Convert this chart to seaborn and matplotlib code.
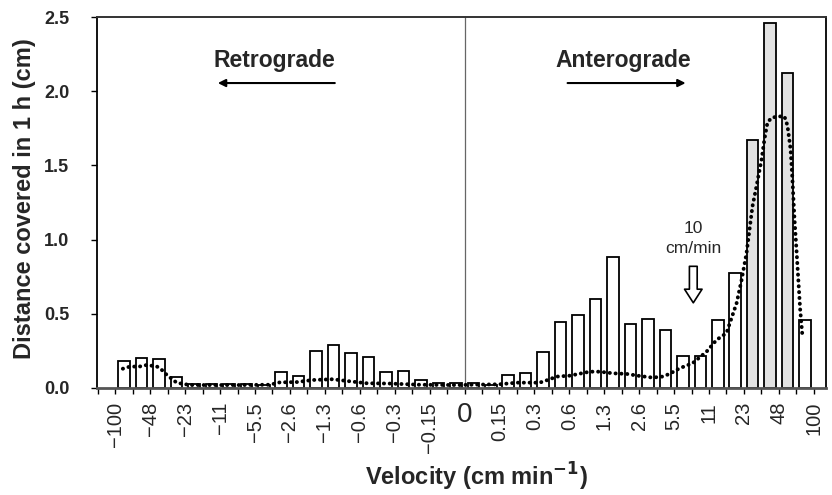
import numpy as np
import pandas as pd
import matplotlib
matplotlib.use("Agg")
import matplotlib.pyplot as plt
import seaborn as sns

# ---- data -------------------------------------------------------------
# velocity bin-edge labels (every other edge is labelled)
edge_labels = ["−100", "−48", "−23", "−11", "−5.5", "−2.6", "−1.3", "−0.6", "−0.3", "−0.15", "0",
               "0.15", "0.3", "0.6", "1.3", "2.6", "5.5", "11", "23", "48", "100"]

# distance covered in 1 h (cm) per velocity bin
retro_dist = [0.182, 0.205, 0.194, 0.076, 0.030, 0.025, 0.030, 0.028, 0.022, 0.106,
              0.078, 0.247, 0.292, 0.239, 0.209, 0.109, 0.115, 0.056, 0.036, 0.032]
antero_dist = [0.034, 0.022, 0.088, 0.100, 0.243, 0.446, 0.491, 0.599, 0.885, 0.432,
               0.468, 0.390, 0.218, 0.218, 0.455, 0.772, 1.67, 2.46, 2.12, 0.46]

# smoothed (dotted) curve, in bin-index units
curve_bin = [-0.07, 0.33, 0.9, 1.3, 1.88, 2.16, 2.45, 3.02, 3.77, 5.0, 6.5, 8.35, 8.92,
             9.89, 10.81, 11.95, 12.93, 13.9, 15.2, 16.93, 19.22, 19.8, 21.5, 22.5, 23.8,
             24.26, 24.78, 25.53, 26.67, 27.24, 28.0, 28.78, 29.53, 30.27, 30.84, 31.24,
             31.82, 32.56, 33.36, 33.93, 34.5, 35.08, 35.37, 35.65, 35.99, 36.22, 36.51,
             36.68, 36.85, 37.08, 37.42, 37.82, 37.99, 38.17, 38.28, 38.39, 38.51, 38.62,
             38.72, 38.85]
curve_dist = [0.13, 0.144, 0.145, 0.155, 0.145, 0.122, 0.088, 0.035, 0.02, 0.02, 0.02, 0.022, 0.038,
              0.04, 0.054, 0.059, 0.045, 0.032, 0.03, 0.022, 0.02, 0.022, 0.025, 0.036, 0.036,
              0.054, 0.077, 0.083, 0.11, 0.11, 0.099, 0.095, 0.081, 0.07, 0.077, 0.095,
              0.133, 0.167, 0.245, 0.324, 0.37, 0.572, 0.73, 0.91, 1.225, 1.36, 1.54,
              1.68, 1.79, 1.82, 1.83, 1.83, 1.77, 1.61, 1.4, 1.15, 0.93, 0.72,
              0.53, 0.35]

# ---- figure -----------------------------------------------------------
sns.set_theme(style="white")
plt.rcParams["font.family"] = ["Liberation Sans", "DejaVu Sans"]

dist = retro_dist + antero_dist
n = len(dist)
df = pd.DataFrame({"bin": np.arange(n), "dist": dist,
                   "shade": ["tall" if v > 1.0 else "low" for v in dist]})

fig = plt.figure(figsize=(8.32, 4.95), dpi=100)
ax = fig.add_axes([97 / 832, 1 - 388 / 495, 729 / 832, 371 / 495])

sns.barplot(data=df, x="bin", y="dist", hue="shade",
            palette={"low": "white", "tall": "#e2e2e2"}, native_scale=True,
            width=0.66, edgecolor="black", linewidth=1.3, dodge=False,
            saturation=1, errorbar=None, legend=False, ax=ax, zorder=2)

sns.lineplot(x=curve_bin, y=curve_dist, color="black", linewidth=2.8,
             linestyle=(0, (0.05, 1.45)), dash_capstyle="round",
             estimator=None, sort=True, ax=ax, zorder=3)

ax.set_xlim(-1.55, 40.2)
ax.set_ylim(0, 2.5)

# center (zero velocity) line
ax.axvline(19.5, color="#666666", linewidth=0.9, zorder=1)

# ticks
edges = np.arange(-1.5, 40.0, 1.0)
labels = []
for e in edges:
    j = (e + 0.5) / 2
    if j >= 0 and j == int(j) and int(j) < len(edge_labels):
        labels.append(edge_labels[int(j)])
    else:
        labels.append("")
ax.set_xticks(edges)
ax.set_xticklabels(labels, rotation=90, fontsize=14.5)
for t in ax.get_xticklabels():
    if t.get_text() == "0":
        t.set_rotation(0)
        t.set_fontsize(20)
ax.set_yticks([0.0, 0.5, 1.0, 1.5, 2.0, 2.5])
ax.set_yticklabels(["0.0", "0.5", "1.0", "1.5", "2.0", "2.5"], fontsize=13, fontweight="bold")
ax.tick_params(axis="x", direction="out", length=4, width=1, pad=6, bottom=True, color="black")
ax.tick_params(axis="y", direction="out", length=4, width=1, pad=16, left=True, color="black")

for side in ["left", "right"]:
    ax.spines[side].set_color("black")
    ax.spines[side].set_linewidth(1.3)
ax.spines["top"].set_color("#333333")
ax.spines["top"].set_linewidth(1.4)
ax.spines["bottom"].set_color("#555555")
ax.spines["bottom"].set_linewidth(2.0)

ax.set_xlabel("Velocity (cm min$^{\\mathbf{-1}}$)", fontsize=17, fontweight="bold")
ax.set_ylabel("Distance covered in 1 h (cm)", fontsize=17, fontweight="bold")
ax.xaxis.set_label_coords(0.52, -0.24)
ax.xaxis.label.set_va("center")
ax.yaxis.set_label_coords(-0.099, 0.51)
ax.yaxis.label.set_va("center")

# annotations
ax.text(8.63, 2.205, "Retrograde", ha="center", va="center", fontsize=16.5, fontweight="bold")
ax.text(28.6, 2.205, "Anterograde", ha="center", va="center", fontsize=16.5, fontweight="bold")
ax.annotate("", xy=(5.37, 2.055), xytext=(12.07, 2.055),
            arrowprops=dict(arrowstyle="-|>", color="black", lw=1.5, mutation_scale=11,
                            shrinkA=0, shrinkB=0))
ax.annotate("", xy=(32.16, 2.055), xytext=(25.4, 2.055),
            arrowprops=dict(arrowstyle="-|>", color="black", lw=1.5, mutation_scale=11,
                            shrinkA=0, shrinkB=0))
ax.text(32.6, 1.074, "10", ha="center", va="center", fontsize=12.5)
ax.text(32.6, 0.939, "cm/min", ha="center", va="center", fontsize=12.5)
ax.annotate("", xy=(32.6, 0.574), xytext=(32.6, 0.82),
            arrowprops=dict(arrowstyle="simple,head_length=0.7,head_width=0.9,tail_width=0.4",
                            fc="white", ec="black", lw=1.2, mutation_scale=14,
                            shrinkA=0, shrinkB=0))

fig.savefig("out.png", dpi=100)
